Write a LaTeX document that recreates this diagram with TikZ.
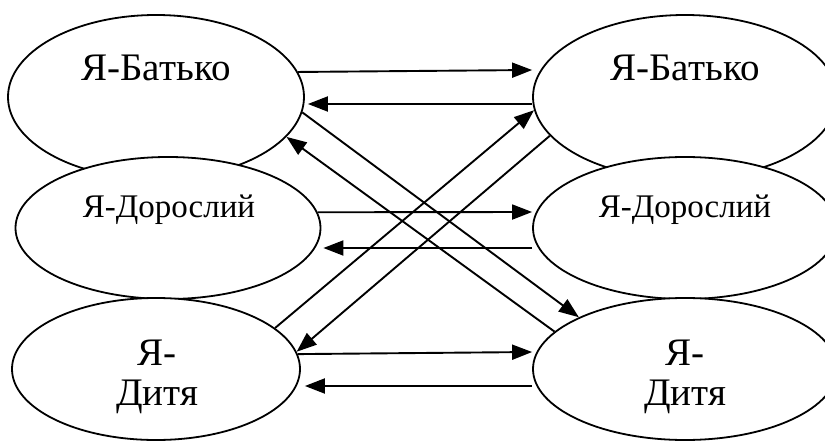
\documentclass[tikz,border=0pt]{standalone}
\usepackage{fontspec}
\setmainfont{Liberation Serif}
\newfontfamily\timesfam{Liberation Serif}
\usetikzlibrary{arrows.meta,shapes.geometric}
\begin{document}
\begin{tikzpicture}[x=1pt,y=-1pt,
  oval/.style={ellipse,draw,fill=white,line width=1.8pt,inner sep=0pt},
  arr/.style={line width=1.9pt,-{Triangle[length=20pt,width=15pt]}},
  big/.style={font=\timesfam\fontsize{39}{44}\selectfont,anchor=base,inner sep=0pt},
  mid/.style={font=\timesfam\fontsize{33}{38}\selectfont,anchor=base,inner sep=0pt},
  kid/.style={font=\timesfam\fontsize{39}{44}\selectfont,anchor=base,inner sep=0pt}]
\useasboundingbox (0,0) rectangle (825,441);
% left column
\node[oval,minimum width=296pt,minimum height=164pt] (lb) at (156,97) {};
\node[oval,minimum width=305pt,minimum height=142pt] (ld) at (168,228) {};
\node[oval,minimum width=288pt,minimum height=142pt] (ldy) at (156,369) {};
% right column
\node[oval,minimum width=304pt,minimum height=164pt] (rb) at (685,97) {};
\node[oval,minimum width=304pt,minimum height=142pt] (rd) at (685,228) {};
\node[oval,minimum width=304pt,minimum height=142pt] (rdy) at (685,369) {};
% texts
\node[big] (tlb) at (156,81) {Я-Батько};
\node[big] (trb) at (685,81) {Я-Батько};
\node[mid] (tld) at (169,217) {Я-Дорослий};
\node[mid] (trd) at (685,217) {Я-Дорослий};
\node[kid] (tldy1) at (157,365) {Я-};
\node[kid] (tldy2) at (157,405) {Дитя};
\node[kid] (trdy1) at (685,365) {Я-};
\node[kid] (trdy2) at (685,405) {Дитя};
% horizontal arrows
\draw[arr] (lb.10.9) -- ([yshift=27pt]rb.west);
\draw[arr] ([yshift=-7pt]rb.west) -- ([yshift=-7pt,xshift=3pt]lb.east);
\draw[arr] (ld.6.2) -- ([yshift=16pt]rd.west);
\draw[arr] ([yshift=-20pt]rd.west) -- ([yshift=-20pt,xshift=2pt]ld.east);
\draw[arr] (ldy.6.9) -- ([yshift=17pt]rdy.west);
\draw[arr] ([yshift=-17pt]rdy.west) -- ([yshift=-17pt,xshift=4pt]ldy.east);
% diagonal arrows
\draw[arr] (lb.-6.7) -- (rdy.154.3);
\draw[arr] (rdy.164.1) -- (lb.-17.2);
\draw[arr] (ldy.19.2) -- (rb.185.7);
\draw[arr] (rb.196.8) -- (ldy.7.8);
\end{tikzpicture}
\end{document}
